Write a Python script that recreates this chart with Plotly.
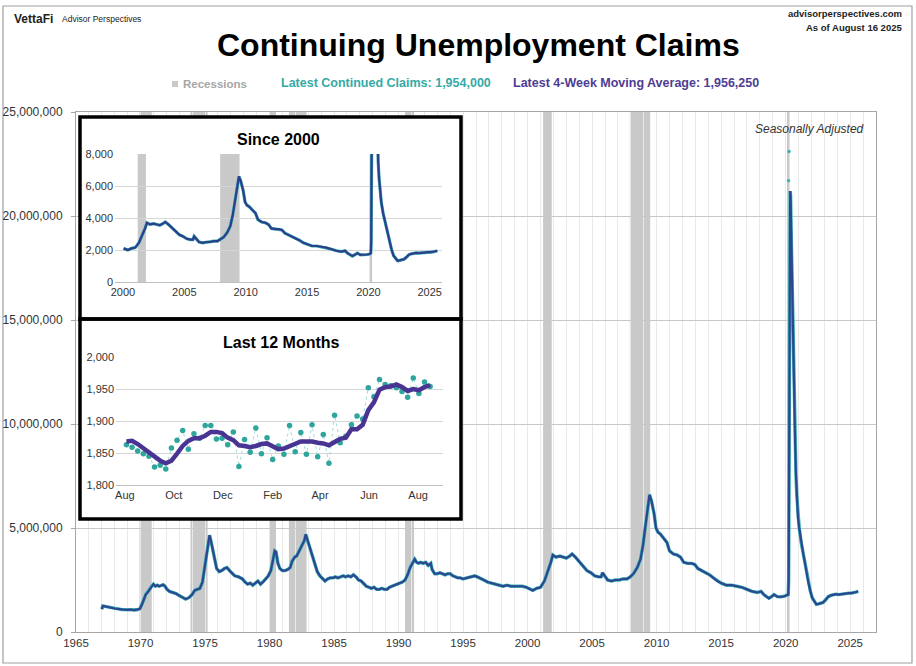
import plotly.graph_objects as go
import pandas as pd

# ---------------- DATA ----------------
# Continuing claims, 4-week moving average (thousands)
main_years = [
    1967.00, 1967.08, 1967.25, 1967.50, 1967.75, 1968.00, 1968.25, 1968.50, 1968.75, 1969.00,
    1969.25, 1969.50, 1969.75, 1969.95, 1970.10, 1970.25, 1970.40, 1970.55, 1970.70, 1970.85,
    1971.00, 1971.15, 1971.30, 1971.45, 1971.60, 1971.75, 1971.90, 1972.05, 1972.25, 1972.50,
    1972.75, 1973.00, 1973.25, 1973.50, 1973.75, 1974.00, 1974.20, 1974.40, 1974.60, 1974.80,
    1974.95, 1975.10, 1975.25, 1975.35, 1975.45, 1975.60, 1975.75, 1975.90, 1976.10, 1976.30,
    1976.50, 1976.70, 1976.90, 1977.10, 1977.30, 1977.60, 1977.90, 1978.10, 1978.30, 1978.50,
    1978.70, 1978.90, 1979.10, 1979.30, 1979.50, 1979.70, 1979.90, 1980.10, 1980.25, 1980.40,
    1980.50, 1980.65, 1980.80, 1981.00, 1981.20, 1981.40, 1981.60, 1981.75, 1981.95, 1982.10,
    1982.30, 1982.50, 1982.70, 1982.80, 1982.90, 1983.00, 1983.15, 1983.30, 1983.50, 1983.70,
    1983.90, 1984.10, 1984.30, 1984.50, 1984.70, 1984.90, 1985.10, 1985.30, 1985.50, 1985.70,
    1985.90, 1986.10, 1986.30, 1986.50, 1986.70, 1986.90, 1987.10, 1987.30, 1987.50, 1987.70,
    1987.90, 1988.10, 1988.30, 1988.50, 1988.70, 1988.90, 1989.10, 1989.30, 1989.50, 1989.70,
    1989.90, 1990.10, 1990.30, 1990.50, 1990.70, 1990.90, 1991.10, 1991.25, 1991.40, 1991.55,
    1991.70, 1991.90, 1992.10, 1992.30, 1992.50, 1992.60, 1992.80, 1993.00, 1993.20, 1993.40,
    1993.60, 1993.80, 1994.00, 1994.20, 1994.40, 1994.60, 1994.80, 1995.00, 1995.30, 1995.60,
    1995.90, 1996.10, 1996.30, 1996.60, 1996.90, 1997.20, 1997.50, 1997.80, 1998.10, 1998.40,
    1998.70, 1999.00, 1999.30, 1999.60, 1999.90, 2000.05, 2000.40, 2000.70, 2001.00, 2001.30,
    2001.60, 2001.80, 2001.95, 2002.20, 2002.50, 2002.75, 2003.00, 2003.25, 2003.45, 2003.70,
    2004.00, 2004.30, 2004.60, 2004.90, 2005.20, 2005.50, 2005.70, 2005.80, 2005.95, 2006.20,
    2006.50, 2006.80, 2007.10, 2007.40, 2007.70, 2007.95, 2008.20, 2008.50, 2008.75, 2008.95,
    2009.15, 2009.30, 2009.45, 2009.60, 2009.80, 2009.95, 2010.10, 2010.30, 2010.55, 2010.80,
    2011.00, 2011.30, 2011.60, 2011.85, 2012.10, 2012.40, 2012.70, 2012.95, 2013.20, 2013.50,
    2013.80, 2014.10, 2014.40, 2014.70, 2015.00, 2015.40, 2015.80, 2016.20, 2016.60, 2017.00,
    2017.40, 2017.80, 2018.10, 2018.30, 2018.70, 2018.90, 2019.10, 2019.35, 2019.60, 2019.90,
    2020.10, 2020.20, 2020.23, 2020.26, 2020.28, 2020.30, 2020.32, 2020.35, 2020.38, 2020.42,
    2020.50, 2020.58, 2020.65, 2020.73, 2020.80, 2020.87, 2020.95, 2021.05, 2021.20, 2021.35,
    2021.50, 2021.60, 2021.75, 2021.90, 2022.05, 2022.20, 2022.38, 2022.55, 2022.70, 2022.90,
    2023.10, 2023.30, 2023.50, 2023.70, 2023.90, 2024.10, 2024.30, 2024.50, 2024.70, 2024.90,
    2025.10, 2025.30, 2025.45, 2025.62,
]
main_ma_k = [
    1100, 1250, 1230, 1190, 1160, 1130, 1110, 1080, 1070, 1060,
    1080, 1040, 1070, 1120, 1300, 1550, 1800, 1900, 2050, 2200,
    2300, 2200, 2250, 2200, 2250, 2270, 2200, 2050, 1950, 1900,
    1850, 1750, 1650, 1580, 1650, 1800, 2000, 2050, 2100, 2400,
    3000, 3700, 4300, 4650, 4400, 3900, 3450, 3050, 2900, 2950,
    3050, 3100, 2950, 2800, 2700, 2650, 2550, 2400, 2300, 2350,
    2250, 2350, 2450, 2300, 2400, 2550, 2700, 2950, 3400, 3900,
    3850, 3300, 3050, 2950, 2950, 3000, 3100, 3400, 3600, 3650,
    3900, 4150, 4400, 4700, 4500, 4300, 3900, 3600, 3200, 2900,
    2700, 2550, 2450, 2550, 2600, 2600, 2650, 2600, 2650, 2700,
    2650, 2700, 2650, 2750, 2650, 2500, 2450, 2300, 2200, 2150,
    2100, 2150, 2050, 2050, 2100, 2050, 2050, 2150, 2200, 2250,
    2300, 2350, 2400, 2500, 2750, 3100, 3350, 3500, 3350, 3300,
    3350, 3300, 3350, 3200, 3300, 3000, 2800, 2800, 2850, 2800,
    2750, 2800, 2800, 2700, 2650, 2600, 2600, 2550, 2600, 2650,
    2700, 2650, 2600, 2500, 2400, 2350, 2300, 2250, 2200, 2250,
    2200, 2200, 2200, 2200, 2150, 2100, 2000, 2100, 2150, 2450,
    2950, 3350, 3700, 3600, 3650, 3600, 3550, 3650, 3750, 3600,
    3400, 3150, 2950, 2850, 2700, 2650, 2650, 2850, 2700, 2500,
    2450, 2500, 2500, 2550, 2550, 2650, 2800, 3100, 3500, 4200,
    5200, 6000, 6600, 6300, 5700, 5000, 4800, 4700, 4500, 4300,
    3900, 3750, 3700, 3600, 3350, 3300, 3300, 3250, 3050, 2950,
    2850, 2750, 2600, 2450, 2350, 2250, 2250, 2200, 2150, 2050,
    1950, 1900, 1950, 1800, 1620, 1700, 1800, 1700, 1690, 1720,
    1750, 1800, 2500, 6000, 11000, 16000, 20000, 21200, 21000, 19500,
    16500, 14500, 12000, 9200, 7500, 6500, 5500, 5000, 4300, 3800,
    3300, 2900, 2400, 2000, 1650, 1500, 1330, 1350, 1380, 1420,
    1550, 1700, 1760, 1800, 1820, 1800, 1820, 1860, 1850, 1870,
    1870, 1880, 1920, 1956,
]
# Weekly claims peak points visible as separate dots (thousands)
spike_years = [2020.22, 2020.26]
spike_claims_k = [21700, 23100]

recession_starts = [1969.92, 1973.87, 1980.00, 1981.50, 1990.50, 2001.20, 2007.92, 2020.10]
recession_ends = [1970.87, 1975.20, 1980.50, 1982.87, 1991.20, 2001.87, 2009.50, 2020.30]

# Last 12 months (weekly, thousands)
recent_first_week = "2024-08-03"
recent_claims_k = [
    1863, 1859, 1853, 1849, 1845, 1828, 1831, 1825, 1858, 1870,
    1885, 1856, 1880, 1873, 1893, 1893, 1872, 1873, 1863, 1883,
    1829, 1871, 1851, 1889, 1849, 1874, 1840, 1861, 1848, 1893,
    1852, 1882, 1848, 1894, 1844, 1879, 1834, 1909, 1866, 1876,
    1894, 1908, 1903, 1952, 1938, 1965, 1957, 1955, 1952, 1946,
    1937, 1967, 1943, 1961, 1954,
]
recent_ma_k = [
    1868, 1869, 1864, 1857, 1852, 1844, 1838, 1834, 1838, 1849,
    1861, 1869, 1873, 1873, 1877, 1883, 1883, 1881, 1874, 1870,
    1862, 1861, 1859, 1861, 1864, 1865, 1861, 1856, 1857, 1861,
    1864, 1868, 1868, 1868, 1866, 1865, 1862, 1867, 1872, 1874,
    1887, 1887, 1894, 1917, 1929, 1949, 1953, 1954, 1957, 1953,
    1947, 1950, 1948, 1953, 1956.25,
]
recent_dates = pd.date_range(recent_first_week, periods=len(recent_claims_k), freq="7D")

latest_claims = "1,954,000"
latest_ma = "1,956,250"

# ---------------- LAYOUT HELPERS ----------------
W, H = 916, 666
def px(x):
    return x / W
def py(y):
    return 1 - y / H

FONT = "Liberation Sans, Arial, sans-serif"
TEAL = "#3ab3b3"
NAVY = "#2c4790"
PURPLE = "#4a3493"
REC = "#c9c9c9"

fig = go.Figure()

# ---- main chart ----
main_vals = [v * 1000 for v in main_ma_k]
fig.add_trace(go.Scatter(x=main_years, y=main_vals, mode="lines",
                         line=dict(color=TEAL, width=3.4), xaxis="x", yaxis="y",
                         hoverinfo="skip", showlegend=False))
fig.add_trace(go.Scatter(x=main_years, y=main_vals, mode="lines",
                         line=dict(color=NAVY, width=2.2), xaxis="x", yaxis="y",
                         showlegend=False))
fig.add_trace(go.Scatter(x=spike_years, y=[v * 1000 for v in spike_claims_k], mode="markers",
                         marker=dict(color=TEAL, size=3.5), xaxis="x", yaxis="y",
                         showlegend=False))

# ---- occluding panel (white background behind insets) ----
fig.add_trace(go.Scatter(x=[None], y=[None], xaxis="x2", yaxis="y2", showlegend=False))

# ---- inset 1: since 2000 ----
ins_years = [y for y in main_years if y >= 2000]
ins_vals = [v for y, v in zip(main_years, main_ma_k) if y >= 2000]
fig.add_trace(go.Scatter(x=ins_years, y=ins_vals, mode="lines",
                         line=dict(color=TEAL, width=3.2), xaxis="x3", yaxis="y3",
                         hoverinfo="skip", showlegend=False))
fig.add_trace(go.Scatter(x=ins_years, y=ins_vals, mode="lines",
                         line=dict(color="#2e3d8c", width=2.2), xaxis="x3", yaxis="y3",
                         showlegend=False))

# ---- inset 2: last 12 months ----
fig.add_trace(go.Scatter(x=recent_dates, y=recent_claims_k, mode="lines+markers",
                         line=dict(color="#86d3cf", width=0.8, dash="dot"),
                         marker=dict(color="#2ea59d", size=5.5),
                         xaxis="x4", yaxis="y4", showlegend=False))
fig.add_trace(go.Scatter(x=recent_dates, y=recent_ma_k, mode="lines",
                         line=dict(color=PURPLE, width=4.5),
                         xaxis="x4", yaxis="y4", showlegend=False))

shapes = []
# outer frame
shapes.append(dict(type="rect", xref="paper", yref="paper", x0=px(3), x1=px(912),
                   y0=py(663), y1=py(6), line=dict(color="#a0a0a0", width=1.2), layer="below"))
# recession bars, main
for s, e in zip(recession_starts, recession_ends):
    shapes.append(dict(type="rect", xref="x", yref="y", x0=s, x1=e, y0=0, y1=25e6,
                       fillcolor=REC, line=dict(width=0), layer="below"))
# recession bars, inset 1
for s, e in zip(recession_starts, recession_ends):
    if s >= 2000:
        shapes.append(dict(type="rect", xref="x3", yref="y3", x0=s, x1=e, y0=0, y1=8000,
                           fillcolor=REC, line=dict(width=0), layer="below"))
# inset box borders
shapes.append(dict(type="rect", xref="paper", yref="paper", x0=px(80), x1=px(461),
                   y0=py(319), y1=py(117), line=dict(color="black", width=3.5), layer="above"))
shapes.append(dict(type="rect", xref="paper", yref="paper", x0=px(80), x1=px(461),
                   y0=py(519), y1=py(319), line=dict(color="black", width=3.5), layer="above"))
# legend square
shapes.append(dict(type="rect", xref="paper", yref="paper", x0=px(172), x1=px(178),
                   y0=py(87), y1=py(81), fillcolor=REC, line=dict(width=0), layer="above"))

annotations = [
    dict(x=px(478), y=py(45), text="<b>Continuing Unemployment Claims</b>",
         font=dict(family=FONT, size=32, color="black")),
    dict(x=px(12), y=py(19), xanchor="left", text="<b>VettaFi</b>",
         font=dict(family=FONT, size=12, color="#222")),
    dict(x=px(60), y=py(19), xanchor="left", text="Advisor Perspectives",
         font=dict(family=FONT, size=8.5, color="#222")),
    dict(x=px(904), y=py(14), xanchor="right", text="<b>advisorperspectives.com</b>",
         font=dict(family=FONT, size=9.5, color="#222")),
    dict(x=px(904), y=py(27), xanchor="right", text="<b>As of August 16 2025</b>",
         font=dict(family=FONT, size=9.5, color="#222")),
    dict(x=px(181), y=py(84), xanchor="left", text="<b>Recessions</b>",
         font=dict(family=FONT, size=11.5, color="#a6a6a6")),
    dict(x=px(386), y=py(83), text=f"<b>Latest Continued Claims: {latest_claims}</b>",
         font=dict(family=FONT, size=12.5, color="#36aaa6")),
    dict(x=px(636), y=py(83), text=f"<b>Latest 4-Week Moving Average: {latest_ma}</b>",
         font=dict(family=FONT, size=12.5, color="#4e3d92")),
    dict(x=px(866), y=py(129), xanchor="right", text="<i>Seasonally Adjusted</i>",
         font=dict(family=FONT, size=12, color="#333")),
    dict(x=px(278), y=py(139), text="<b>Since 2000</b>",
         font=dict(family=FONT, size=16, color="black")),
    dict(x=px(281), y=py(342), text="<b>Last 12 Months</b>",
         font=dict(family=FONT, size=16, color="black")),
]
for a in annotations:
    a.setdefault("xref", "paper")
    a.setdefault("yref", "paper")
    a.setdefault("showarrow", False)
    a.setdefault("yanchor", "middle")
    a.setdefault("xanchor", "center")

tickfont = dict(family=FONT, size=12, color="#333")
small = dict(family=FONT, size=11, color="#333")

fig.update_layout(
    template="none",
    width=W, height=H,
    margin=dict(l=0, r=0, t=0, b=0, pad=0),
    paper_bgcolor="white", plot_bgcolor="white",
    font=dict(family=FONT, color="#333"),
    showlegend=False,
    shapes=shapes, annotations=annotations,
    xaxis=dict(domain=[px(76), px(876)], range=[1965, 2027], tick0=1965, dtick=5,
               showgrid=True, gridcolor="#e9e9e9", gridwidth=1,
               minor=dict(dtick=1, showgrid=True, gridcolor="#e9e9e9"),
               showline=True, linecolor="#a6a6a6", mirror=True, zeroline=False,
               ticks="", tickfont=dict(family=FONT, size=11.5, color="#333"),
               anchor="y", automargin=False),
    yaxis=dict(domain=[py(632), py(112)], range=[0, 25e6], dtick=5e6, tickformat=",",
               showgrid=True, gridcolor="#c8c8c8", showline=True, linecolor="#a6a6a6",
               mirror=True, zeroline=False, ticks="outside", ticklen=4, tickcolor="#a6a6a6",
               tickfont=tickfont, anchor="x", automargin=False, ticklabelstandoff=6),
    xaxis2=dict(domain=[px(80), px(461)], visible=False, range=[0, 1], anchor="y2",
                automargin=False),
    yaxis2=dict(domain=[py(519), py(117)], visible=False, range=[0, 1], anchor="x2",
                automargin=False),
    xaxis3=dict(domain=[px(115), px(442)], range=[1999.35, 2026],
                tickvals=[2000, 2005, 2010, 2015, 2020, 2025], showgrid=False,
                showline=True, linecolor="#bfbfbf", zeroline=False, ticks="",
                tickfont=small, anchor="y3", automargin=False),
    yaxis3=dict(domain=[py(282), py(154)], range=[0, 8000], dtick=2000, tickformat=",",
                showgrid=True, gridcolor="#d6d6d6", showline=False, zeroline=False,
                ticks="", tickfont=small, anchor="x3", ticklabelstandoff=1,
                automargin=False),
    xaxis4=dict(domain=[px(116), px(443)], type="date", range=["2024-07-21", "2025-09-01"],
                dtick="M2", tick0="2024-08-01", tickformat="%b", showgrid=False,
                showline=True, linecolor="#bfbfbf", zeroline=False, ticks="",
                tickfont=small, anchor="y4", automargin=False),
    yaxis4=dict(domain=[py(485), py(357)], range=[1800, 2000], dtick=50, tickformat=",",
                showgrid=True, gridcolor="#d6d6d6", showline=False, zeroline=False,
                ticks="", tickfont=small, anchor="x4", ticklabelstandoff=1,
                automargin=False),
)

fig.write_html("out.html", config={"displayModeBar": False},
               post_script="document.body.style.margin='0px';")
